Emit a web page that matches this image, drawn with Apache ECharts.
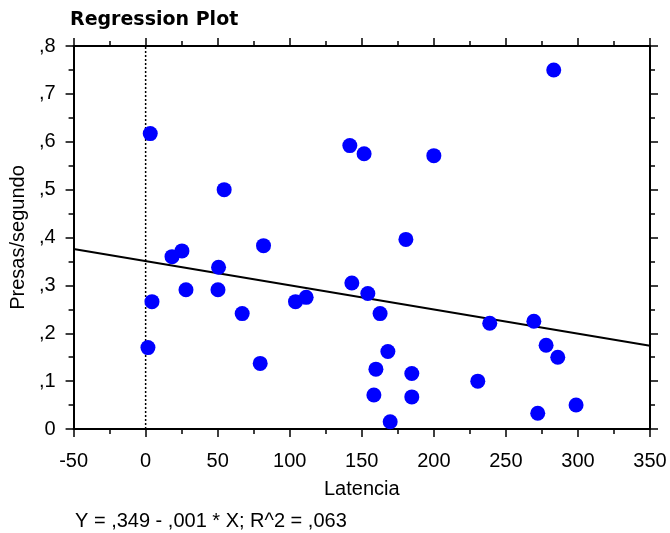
<!DOCTYPE html>
<html>
<head>
<meta charset="utf-8">
<script src="https://cdn.jsdelivr.net/npm/echarts@6/dist/echarts.min.js"></script>
<style>html,body{margin:0;padding:0;background:#fff}#c{width:670px;height:533px}</style>
</head>
<body>
<div id="c"></div>
<script>
const latencia = [3.2, 54.5, 81.8, 25.2, 18.3, 50.6, 283.2, 141.7, 151.6, 200.0, 180.6,
  4.4, 1.6, 28.0, 50.2, 67.0, 79.5, 104.0, 111.4,
  143.1, 154.2, 162.7, 168.1, 159.8, 184.7, 158.4, 184.7, 169.7, 238.8, 269.4, 230.5, 277.9, 286.0, 272.1, 298.7];
const presas = [0.617, 0.500, 0.383, 0.372, 0.360, 0.338, 0.750, 0.592, 0.575, 0.571, 0.396,
  0.266, 0.170, 0.291, 0.291, 0.241, 0.137, 0.266, 0.275,
  0.305, 0.283, 0.241, 0.162, 0.125, 0.116, 0.071, 0.067, 0.015, 0.221, 0.225, 0.100, 0.175, 0.150, 0.033, 0.050];
const regIntercept = 0.3505;
const regSlope = -0.000505;
const xRange = [-50, 350];
const yRange = [0, 0.8];
const xTickLabels = ['-50', '0', '50', '100', '150', '200', '250', '300', '350'];
const yTickLabels = ['0', ',1', ',2', ',3', ',4', ',5', ',6', ',7', ',8'];
const titleText = 'Regression Plot';
const footerText = 'Y = ,349 - ,001 * X; R^2 = ,063';

const FONT = "'Liberation Sans', Arial, sans-serif";
const points = latencia.map((x, i) => [x, presas[i]]);
const regLine = xRange.map(x => [x, regIntercept + regSlope * x]);

const baseAxis = {
  axisLine: {show: true, onZero: false, lineStyle: {color: '#000', width: 2}},
  axisTick: {show: true, inside: false, length: 8, lineStyle: {color: '#000', width: 1.5}},
  minorTick: {show: true, splitNumber: 2, length: 5, lineStyle: {color: '#000', width: 1.5}},
  splitLine: {show: false}
};

const chart = echarts.init(document.getElementById('c'), null, {renderer: 'canvas'});
chart.setOption({
  animation: false,
  backgroundColor: '#fff',
  textStyle: {fontFamily: FONT},
  title: {
    text: titleText, left: 70, top: 11, padding: 0,
    textStyle: {fontFamily: "'DejaVu Sans', sans-serif", fontSize: 19, fontWeight: 'bold', color: '#000'}
  },
  graphic: [{
    type: 'text', left: 75, top: 511,
    style: {text: footerText, fontFamily: FONT, fontSize: 20, fill: '#000'}
  }],
  grid: {left: 73, right: 20, top: 46, bottom: 104},
  xAxis: [
    Object.assign({}, baseAxis, {
      type: 'value', position: 'bottom', min: xRange[0], max: xRange[1], interval: 50,
      name: 'Latencia', nameLocation: 'middle', nameGap: 50,
      nameTextStyle: {fontFamily: FONT, fontSize: 20, color: '#000'},
      axisLabel: {margin: 22, fontFamily: FONT, fontSize: 20, color: '#000',
        formatter: v => xTickLabels[Math.round((v - xRange[0]) / 50)]}
    }),
    Object.assign({}, baseAxis, {
      type: 'value', position: 'top', min: xRange[0], max: xRange[1], interval: 50,
      axisLabel: {show: false}
    })
  ],
  yAxis: [
    Object.assign({}, baseAxis, {
      type: 'value', position: 'left', min: yRange[0], max: yRange[1], interval: 0.1,
      name: 'Presas/segundo', nameLocation: 'middle', nameGap: 43,
      nameTextStyle: {fontFamily: FONT, fontSize: 20, color: '#000'},
      axisLabel: {margin: 18, fontFamily: FONT, fontSize: 20, color: '#000',
        formatter: v => yTickLabels[Math.round(v * 10)]}
    }),
    Object.assign({}, baseAxis, {
      type: 'value', position: 'right', min: yRange[0], max: yRange[1], interval: 0.1,
      axisLabel: {show: false}
    })
  ],
  series: [
    {
      type: 'line', data: [[0, yRange[0]], [0, yRange[1]]], symbol: 'none',
      lineStyle: {color: '#000', width: 1.5, type: [2, 2]}, silent: true, z: 1
    },
    {
      type: 'line', data: regLine, symbol: 'none',
      lineStyle: {color: '#000', width: 2}, silent: true, z: 2
    },
    {
      type: 'scatter', data: points, symbol: 'circle', symbolSize: 15,
      itemStyle: {color: '#0000ff', opacity: 1}, z: 3
    }
  ]
});
</script>
</body>
</html>
